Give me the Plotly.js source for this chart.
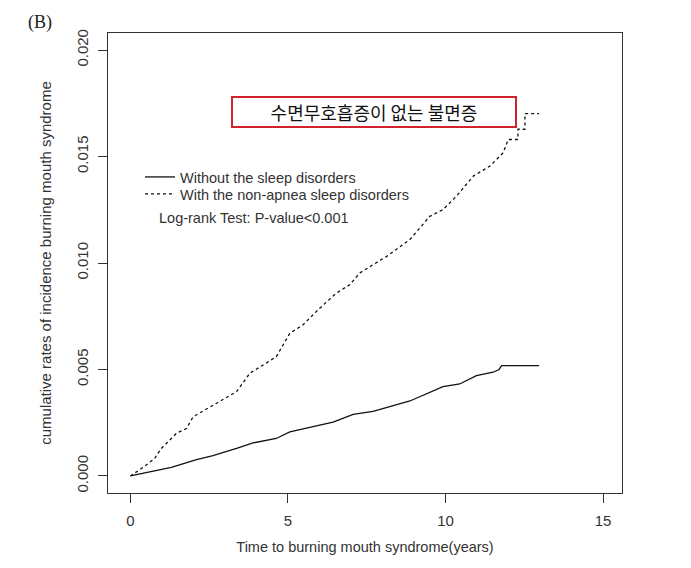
<!DOCTYPE html>
<html>
<head>
<meta charset="utf-8">
<script src="https://cdn.plot.ly/plotly-3.0.1.min.js"></script>
<style>
  html, body { margin: 0; padding: 0; background: #fff; }
  #plot { width: 691px; height: 568px; }
</style>
</head>
<body>
<div id="plot"></div>
<script>
    // cumulative incidence (years, rate)
    let noSleepX = [0, 1.30, 2.10, 2.62, 3.37, 3.89, 4.63, 5.06, 6.43, 7.07, 7.70, 8.87, 9.92, 10.45, 10.98, 11.51, 11.70, 11.78, 12.97];
    let noSleepY = [0, 0.00040, 0.00077, 0.00096, 0.00129, 0.00155, 0.00176, 0.00207, 0.00253, 0.00289, 0.00303, 0.00352, 0.00419, 0.00432, 0.00471, 0.00487, 0.00500, 0.00518, 0.00518];

    let insomniaX = [0, 0.40, 0.77, 0.98, 1.46, 1.78, 1.99, 2.73, 3.37, 3.79, 4.21, 4.63, 5.06, 5.48, 6.01, 6.54, 6.96, 7.28, 7.70, 8.13, 8.87, 9.13, 9.50, 9.92, 10.35, 10.88, 11.41, 11.83, 11.99, 12.30, 12.30, 12.52, 12.52, 12.97];
    let insomniaY = [0, 0.00040, 0.00082, 0.00129, 0.00200, 0.00223, 0.00278, 0.00341, 0.00396, 0.00482, 0.00521, 0.00560, 0.00670, 0.00710, 0.00788, 0.00859, 0.00898, 0.00953, 0.00992, 0.01031, 0.01110, 0.01157, 0.01219, 0.01251, 0.01314, 0.01408, 0.01455, 0.01518, 0.01580, 0.01580, 0.01628, 0.01628, 0.01701, 0.01701];

    let seriesNames = ['Without the sleep disorders', 'With the non-apnea sleep disorders'];
    let xTicks = [0, 5, 10, 15];
    let yTicks = [0, 0.005, 0.010, 0.015, 0.020];
    let yTickText = ['0.000', '0.005', '0.010', '0.015', '0.020'];

    let font = 'Liberation Sans, Arial, sans-serif';
    // plot area in px, used to place the free text
    let px = (v) => (v - 108) / 514;
    let py = (v) => (493 - v) / 460;

    let traces = [{
        x: noSleepX, y: noSleepY,
        mode: 'lines', name: seriesNames[0], legend: 'legend',
        line: {color: '#111', width: 1.3}
    }, {
        x: insomniaX, y: insomniaY,
        mode: 'lines', name: seriesNames[1], legend: 'legend2',
        line: {color: '#111', width: 1.3, dash: '3px,3px'}
    }];

    let legendBase = {
        xanchor: 'left', yanchor: 'top',
        bgcolor: 'rgba(0,0,0,0)', borderwidth: 0,
        font: {family: font, size: 14.5, color: '#333'},
        itemwidth: 30
    };

    let layout = {
        width: 691, height: 568,
        margin: {l: 108, r: 69, t: 33, b: 75, pad: 0},
        paper_bgcolor: '#fff', plot_bgcolor: '#fff',
        font: {family: font, color: '#333', size: 15},
        showlegend: true,
        legend: Object.assign({x: px(140), y: py(161)}, legendBase),
        legend2: Object.assign({x: px(140), y: py(178)}, legendBase),
        xaxis: {
            range: [-0.71, 15.6], tickvals: xTicks, ticktext: xTicks.map(String),
            ticks: 'outside', ticklen: 9, tickwidth: 1, tickcolor: '#333',
            showline: true, linecolor: '#333', linewidth: 1, mirror: true,
            showgrid: false, zeroline: false,
            tickfont: {size: 15, color: '#333'},
            ticklabelstandoff: 5,
            title: {text: 'Time to burning mouth syndrome(years)', font: {size: 14.5, color: '#333'}, standoff: 13}
        },
        yaxis: {
            range: [-0.0008, 0.0208], tickvals: yTicks, ticktext: yTickText,
            ticks: 'outside', ticklen: 9, tickwidth: 1, tickcolor: '#333',
            showline: true, linecolor: '#333', linewidth: 1, mirror: true,
            showgrid: false, zeroline: false, tickangle: -90,
            tickfont: {size: 15, color: '#333'},
            ticklabelstandoff: 4,
            title: {text: 'cumulative rates of incidence burning mouth syndrome', font: {size: 15, color: '#333'}, standoff: 18}
        },
        annotations: [{
            text: '수면무호흡증이 없는 불면증',
            xref: 'x', yref: 'y', x: 7.72, y: 0.01708,
            showarrow: false, width: 282, height: 28,
            bordercolor: '#d1232e', borderwidth: 2, borderpad: 0, bgcolor: '#fff',
            font: {family: 'Noto Sans CJK KR, sans-serif', size: 18, color: '#111'}
        }, {
            text: 'Log-rank Test: P-value<0.001',
            xref: 'paper', yref: 'paper', x: px(157), y: py(218),
            xanchor: 'left', yanchor: 'middle', showarrow: false,
            font: {family: font, size: 14.5, color: '#333'}
        }, {
            text: '(B)',
            xref: 'paper', yref: 'paper', x: px(40), y: py(22),
            xanchor: 'center', yanchor: 'middle', showarrow: false,
            font: {family: 'Liberation Serif, Times New Roman, serif', size: 18, color: '#222'}
        }]
    };

    Plotly.newPlot('plot', traces, layout, {displayModeBar: false, staticPlot: true});
</script>
</body>
</html>
